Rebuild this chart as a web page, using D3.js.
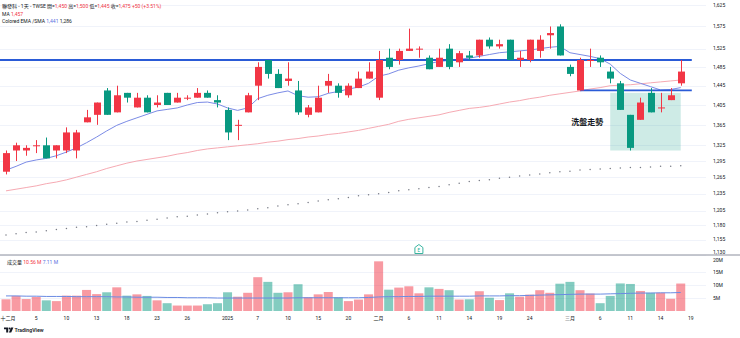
<!DOCTYPE html>
<html>
<head>
<meta charset="utf-8">
<script src="https://cdn.jsdelivr.net/npm/d3@7"></script>
<style>
  html, body { margin: 0; padding: 0; background: #ffffff; }
  svg { display: block; font-family: Roboto, "Noto Sans CJK TC", "Noto Sans", sans-serif; }
</style>
</head>
<body>
<svg id="chart" width="740" height="338"></svg>
<script>
// ---- daily session data (聯發科, TWSE) ----
const dates = [
  "2024-12-02","2024-12-03","2024-12-04","2024-12-05","2024-12-06","2024-12-09","2024-12-10","2024-12-11","2024-12-12","2024-12-13",
  "2024-12-16","2024-12-17","2024-12-18","2024-12-19","2024-12-20","2024-12-23","2024-12-24","2024-12-25","2024-12-26","2024-12-27",
  "2024-12-30","2024-12-31","2025-01-02","2025-01-03","2025-01-06","2025-01-07","2025-01-08","2025-01-09","2025-01-10","2025-01-13",
  "2025-01-14","2025-01-15","2025-01-16","2025-01-17","2025-01-20","2025-01-21","2025-01-22","2025-02-03","2025-02-04","2025-02-05",
  "2025-02-06","2025-02-07","2025-02-10","2025-02-11","2025-02-12","2025-02-13","2025-02-14","2025-02-17","2025-02-18","2025-02-19",
  "2025-02-20","2025-02-21","2025-02-24","2025-02-25","2025-02-26","2025-02-27","2025-03-03","2025-03-04","2025-03-05","2025-03-06",
  "2025-03-07","2025-03-10","2025-03-11","2025-03-12","2025-03-13","2025-03-14","2025-03-17","2025-03-18"
];
const futureDates = ["2025-03-19"];

const opens  = [1275,1315,1315,1325,1325,1315,1315,1315,1370,1385, 1435,1390,1430,1400,1420,1405,1430,1410,1420,1420,
                1430,1415,1395,1365,1390,1445,1500,1470,1455,1435, 1385,1390,1445,1445,1425,1440,1460,1420,1505,1500,
                1520,1525,1505,1485,1525,1495,1510,1510,1545,1530, 1545,1500,1500,1520,1555,1575,1485,1435,1500,1505,
                1475,1450,1385,1375,1430,1400,1415,1450];
const highs  = [1315,1330,1325,1335,1340,1325,1360,1355,1395,1410, 1440,1445,1430,1430,1425,1425,1430,1430,1425,1440,
                1435,1425,1400,1375,1430,1495,1500,1480,1495,1455, 1405,1445,1470,1450,1450,1475,1495,1520,1525,1525,
                1570,1530,1510,1525,1535,1520,1520,1545,1550,1545, 1545,1520,1545,1555,1575,1580,1490,1505,1525,1510,
                1485,1455,1385,1420,1440,1430,1440,1500];
const lows   = [1270,1295,1305,1310,1300,1300,1310,1300,1370,1365, 1385,1390,1410,1400,1390,1400,1405,1410,1415,1420,
                1420,1400,1335,1335,1390,1415,1460,1440,1445,1385, 1380,1390,1430,1420,1420,1440,1460,1415,1480,1490,
                1520,1505,1480,1485,1480,1485,1500,1505,1525,1525, 1500,1485,1495,1505,1525,1510,1465,1435,1485,1485,
                1450,1395,1315,1375,1390,1390,1415,1445];
const closes = [1310,1325,1320,1325,1300,1325,1350,1350,1380,1410, 1385,1425,1420,1420,1390,1410,1405,1420,1420,1430,
                1420,1410,1350,1365,1425,1485,1470,1440,1460,1390, 1400,1420,1455,1430,1445,1460,1475,1500,1485,1520,
                1525,1525,1480,1505,1485,1515,1505,1545,1530,1535, 1500,1505,1545,1545,1560,1510,1470,1500,1500,1495,
                1460,1395,1320,1410,1390,1400,1425,1475];
// 成交量, millions of shares
const volumes = [4.5,5.8,4.6,5.4,4.1,3.8,5.9,5.9,8.1,6.5, 7.2,9.1,5.9,6.4,5.8,4.1,3.0,2.1,2.1,2.1,
                 2.6,3.0,7.2,5.5,7.0,13.0,11.2,7.0,7.2,10.3, 5.3,6.4,7.3,5.3,3.8,4.4,6.4,19.1,8.2,9.0,
                 9.5,6.8,9.1,8.5,8.0,4.4,4.5,7.6,5.1,4.2, 6.8,5.5,6.3,8.0,7.0,10.5,11.2,8.0,6.7,3.0,
                 5.8,10.6,10.4,7.7,7.0,7.0,4.7,10.56];
const volumeMA = [5.8,5.8,5.7,5.7,5.6,5.6,5.6,5.5,5.5,5.5, 5.5,5.4,5.4,5.3,5.3,5.3,5.2,5.2,5.1,5.1,
                  5.1,5.0,5.0,5.0,5.0,5.0,5.0,5.0,5.0,5.1, 5.1,5.1,5.1,5.1,5.1,5.1,5.2,5.4,5.5,5.5,
                  5.6,5.6,5.7,5.7,5.7,5.7,5.7,5.8,5.8,5.8, 5.9,5.9,6.0,6.1,6.2,6.3,6.4,6.5,6.5,6.5,
                  6.6,6.7,6.8,6.9,6.9,7.0,7.0,7.11];
// MA (pink), Colored EMA (blue), SMA (dotted)
const maValues  = [1240,1243,1246,1249,1253,1256,1260,1265,1270,1275, 1281,1286,1291,1295,1298,1301,1304,1308,1311,1315,
                   1318,1320,1322,1324,1326,1328,1331,1333,1336,1338, 1341,1343,1346,1348,1351,1354,1358,1362,1366,1372,
                   1376,1379,1382,1385,1390,1394,1398,1400,1403,1407, 1411,1414,1418,1421,1425,1428,1431,1434,1438,1441,
                   1445,1446,1447,1449,1451,1453,1455,1457];
const emaValues = [1278,1285,1293,1297,1300,1305,1312,1320,1330,1341, 1353,1364,1372,1379,1386,1393,1396,1399,1405,1410,
                   1411,1407,1399,1394,1399,1418,1425,1430,1434,1424, 1421,1422,1429,1433,1438,1442,1450,1465,1470,1478,
                   1483,1487,1492,1497,1499,1502,1504,1508,1512,1516, 1518,1520,1522,1525,1528,1530,1516,1512,1508,1503,
                   1491,1471,1457,1450,1443,1436,1437,1441];
const smaValues = [1163,1165,1167,1168,1170,1172,1174,1176,1177,1179, 1181,1183,1185,1186,1188,1190,1192,1194,1195,1197,
                   1199,1201,1203,1204,1206,1208,1210,1213,1215,1217, 1219,1222,1224,1226,1228,1231,1233,1235,1237,1240,
                   1242,1244,1246,1248,1251,1254,1257,1259,1260,1263, 1265,1267,1269,1271,1273,1275,1276,1278,1279,1280,
                   1281,1282,1283,1283,1284,1285,1285,1286];

// axes
const priceTicks = [1625,1575,1525,1485,1445,1405,1365,1325,1295,1265,1235,1205,1180,1155,1130];
const volumeTicks = [5,10,15,20];
const timeTickDates  = ["2024-12-02","2024-12-05","2024-12-10","2024-12-13","2024-12-18","2024-12-23","2024-12-26",
                        "2025-01-02","2025-01-07","2025-01-10","2025-01-15","2025-01-20","2025-02-03","2025-02-06",
                        "2025-02-11","2025-02-14","2025-02-19","2025-02-24","2025-03-03","2025-03-06","2025-03-11",
                        "2025-03-14","2025-03-19"];
const timeTickLabels = ["十二月","5","10","13","18","23","26","2025","7","10","15","20","二月","6",
                        "11","14","19","24","三月","6","11","14","19"];

// drawings: horizontal levels, shaded zone, note, earnings flag
const levelPrices = [1500, 1435];
const levelStarts = [null, "2025-03-04"];
const levelEnds   = ["2025-03-19", "2025-03-19"];
const zoneDates  = ["2025-03-07", "2025-03-18"];
const zonePrices = [1430, 1315];
const noteText = "洗盤走勢";
const notePrice = 1370;
const noteDate = "2025-03-07";
const earningsDate = "2025-02-07";

// legend
const symbolTitle = "聯發科 - 1天 - TWSE";
const ohlcLabels = ["開=", "高=", "低=", "收="];
const lastIdx = dates.length - 1;
const prevClose = closes[lastIdx - 1];

// ---- layout ----
const W = 740, H = 338;
const plotRight = 706;
const axisX = 713;
const UP = "#f23645", DOWN = "#089981";
const UP_VOL = "rgba(242,54,69,0.5)", DOWN_VOL = "rgba(8,153,129,0.5)";
const TEXT = "#131722";

const svg = d3.select("#chart");

const x = d3.scalePoint().domain(dates.concat(futureDates)).range([6, 690.8]);
const y = d3.scaleLog().domain([1130, 1625]).range([254.7, 5]);
const yv = d3.scaleLinear().domain([0, 20]).range([311, 259]);

const bars = dates.map((d, i) => ({
  date: d, open: opens[i], high: highs[i], low: lows[i], close: closes[i],
  volume: volumes[i], up: closes[i] >= opens[i]
}));

// ---- grid ----
const defs = svg.append("defs");
defs.append("clipPath").attr("id", "mainClip")
  .append("rect").attr("x", 0).attr("y", 0).attr("width", plotRight).attr("height", 255);
defs.append("clipPath").attr("id", "volClip")
  .append("rect").attr("x", 0).attr("y", 256).attr("width", plotRight).attr("height", 56);

svg.append("g").selectAll("line").data(priceTicks).join("line")
  .attr("x1", 0).attr("x2", plotRight)
  .attr("y1", d => Math.round(y(d)) + 0.5).attr("y2", d => Math.round(y(d)) + 0.5)
  .attr("stroke", "#f0f3fa").attr("stroke-width", 1);

svg.append("g").selectAll("line").data(volumeTicks.filter(v => v < 20)).join("line")
  .attr("x1", 0).attr("x2", plotRight)
  .attr("y1", d => Math.round(yv(d)) + 0.5).attr("y2", d => Math.round(yv(d)) + 0.5)
  .attr("stroke", "#f0f3fa").attr("stroke-width", 1);

// ---- main pane ----
const main = svg.append("g").attr("clip-path", "url(#mainClip)");

// shaded zone
main.append("rect")
  .attr("x", x(zoneDates[0])).attr("y", y(zonePrices[0]))
  .attr("width", x(zoneDates[1]) - x(zoneDates[0]))
  .attr("height", y(zonePrices[1]) - y(zonePrices[0]))
  .attr("fill", "rgba(8,153,129,0.2)");

// SMA dots
main.append("g").selectAll("circle").data(smaValues).join("circle")
  .attr("cx", (d, i) => x(dates[i])).attr("cy", d => y(d))
  .attr("r", 0.75).attr("fill", "#787b86");

// MA line
main.append("path").datum(maValues)
  .attr("fill", "none").attr("stroke", "#f6aab3").attr("stroke-width", 1)
  .attr("d", d3.line().x((d, i) => x(dates[i])).y(d => y(d)));

// EMA line
main.append("path").datum(emaValues)
  .attr("fill", "none").attr("stroke", "#7b8be6").attr("stroke-width", 1)
  .attr("d", d3.line().x((d, i) => x(dates[i])).y(d => y(d)));

// horizontal levels
main.append("g").selectAll("line").data(levelPrices).join("line")
  .attr("x1", (d, i) => levelStarts[i] ? x(levelStarts[i]) : 0)
  .attr("x2", (d, i) => x(levelEnds[i]) + 1)
  .attr("y1", d => y(d)).attr("y2", d => y(d))
  .attr("stroke", "#2a5bd7").attr("stroke-width", 1.8);

// candles
const bodyW = 7;
const candles = main.append("g").selectAll("g").data(bars).join("g");
candles.append("line")
  .attr("x1", d => Math.round(x(d.date)) + 0.5).attr("x2", d => Math.round(x(d.date)) + 0.5)
  .attr("y1", d => y(d.high)).attr("y2", d => y(d.low))
  .attr("stroke", d => d.up ? UP : DOWN).attr("stroke-width", 1);
candles.append("rect")
  .attr("x", d => Math.round(x(d.date)) + 0.5 - bodyW / 2)
  .attr("width", bodyW)
  .attr("y", d => y(Math.max(d.open, d.close)))
  .attr("height", d => Math.max(1, y(Math.min(d.open, d.close)) - y(Math.max(d.open, d.close))))
  .attr("fill", d => d.up ? UP : DOWN);

// note text
main.append("text")
  .attr("x", x(noteDate) - 7).attr("y", y(notePrice))
  .attr("dy", "0.35em").attr("text-anchor", "end")
  .attr("font-size", 8).attr("font-weight", 600).attr("fill", TEXT)
  .text(noteText);

// ---- volume pane ----
const vol = svg.append("g").attr("clip-path", "url(#volClip)");
vol.append("g").selectAll("rect").data(bars).join("rect")
  .attr("x", d => x(d.date) - 4.5).attr("width", 9)
  .attr("y", d => yv(d.volume)).attr("height", d => yv(0) - yv(d.volume))
  .attr("fill", d => d.up ? UP_VOL : DOWN_VOL);
vol.append("path").datum(volumeMA)
  .attr("fill", "none").attr("stroke", "#6a8be3").attr("stroke-width", 1)
  .attr("d", d3.line().x((d, i) => x(dates[i])).y(d => yv(d)));

// pane separator
svg.append("line").attr("x1", 0).attr("x2", W).attr("y1", 255).attr("y2", 255)
  .attr("stroke", "#b2b5be").attr("stroke-width", 1.5);

// earnings flag
const ef = svg.append("g").attr("transform", `translate(${x(earningsDate)},253.5)`);
ef.append("path").attr("d", "M-4,0 V-6 L0,-9 L4,-6 V0 Z")
  .attr("fill", "#ffffff").attr("stroke", "#22ab94").attr("stroke-width", 0.9);
ef.append("text").attr("x", 0).attr("y", -1.8).attr("text-anchor", "middle")
  .attr("font-size", 4.5).attr("fill", "#22ab94").text("E");

// ---- axes ----
// price labels sit inside their pane, volume labels inside theirs
svg.append("g").selectAll("text").data(priceTicks).join("text")
  .attr("x", axisX).attr("y", d => Math.min(y(d), 252)).attr("dy", "0.35em")
  .attr("font-size", 5).attr("fill", TEXT)
  .text(d => d3.format(",")(d));

svg.append("g").selectAll("text").data(volumeTicks).join("text")
  .attr("x", axisX).attr("y", d => Math.max(yv(d), 260)).attr("dy", "0.35em")
  .attr("font-size", 5).attr("fill", TEXT)
  .text(d => d + "M");

svg.append("g").selectAll("text").data(timeTickDates).join("text")
  .attr("x", (d, i) => i === 0 ? 0.5 : x(d)).attr("y", 320)
  .attr("text-anchor", (d, i) => i === 0 ? "start" : "middle")
  .attr("font-size", 5).attr("fill", TEXT)
  .text((d, i) => timeTickLabels[i]);

// ---- legends ----
const fmt = d3.format(",");
const chg = closes[lastIdx] - prevClose;
const lg = svg.append("text").attr("x", 2).attr("y", 7.8).attr("font-size", 5).attr("fill", TEXT);
lg.append("tspan").text(symbolTitle + "  ");
[opens[lastIdx], highs[lastIdx], lows[lastIdx], closes[lastIdx]].forEach((v, i) => {
  lg.append("tspan").text(ohlcLabels[i]);
  lg.append("tspan").attr("fill", UP).text(fmt(v) + "  ");
});
lg.append("tspan").attr("fill", UP)
  .text((chg >= 0 ? "+" : "") + chg + " (" + (chg >= 0 ? "+" : "") + (chg / prevClose * 100).toFixed(2) + "%)");

const l2 = svg.append("text").attr("x", 2).attr("y", 15.6).attr("font-size", 5).attr("fill", TEXT);
l2.append("tspan").text("MA  ");
l2.append("tspan").attr("fill", UP).text(fmt(maValues[lastIdx]));

const l3 = svg.append("text").attr("x", 2).attr("y", 22.6).attr("font-size", 5).attr("fill", TEXT);
l3.append("tspan").text("Colored EMA /SMA  ");
l3.append("tspan").attr("fill", "#5b6fe0").text(fmt(emaValues[lastIdx]) + "  ");
l3.append("tspan").text(fmt(smaValues[lastIdx]));

const l4 = svg.append("text").attr("x", 7).attr("y", 264).attr("font-size", 5).attr("fill", TEXT);
l4.append("tspan").text("成交量  ");
l4.append("tspan").attr("fill", UP).text(volumes[lastIdx].toFixed(2) + " M  ");
l4.append("tspan").attr("fill", "#5b6fe0").text(volumeMA[lastIdx].toFixed(2) + " M");

// ---- brand mark ----
const brand = svg.append("g").attr("fill", TEXT);
brand.append("path").attr("d", "M4,327.5 h4.2 v5 h-2 v-3.2 h-2.2 Z");
brand.append("circle").attr("cx", 9.6).attr("cy", 328.6).attr("r", 1);
brand.append("path").attr("d", "M11,327.5 h2.4 l-2.2,5 h-2.3 Z");
brand.append("text").attr("x", 14.5).attr("y", 332).attr("font-size", 5.2).attr("font-weight", 600)
  .text("TradingView");
</script>
</body>
</html>
